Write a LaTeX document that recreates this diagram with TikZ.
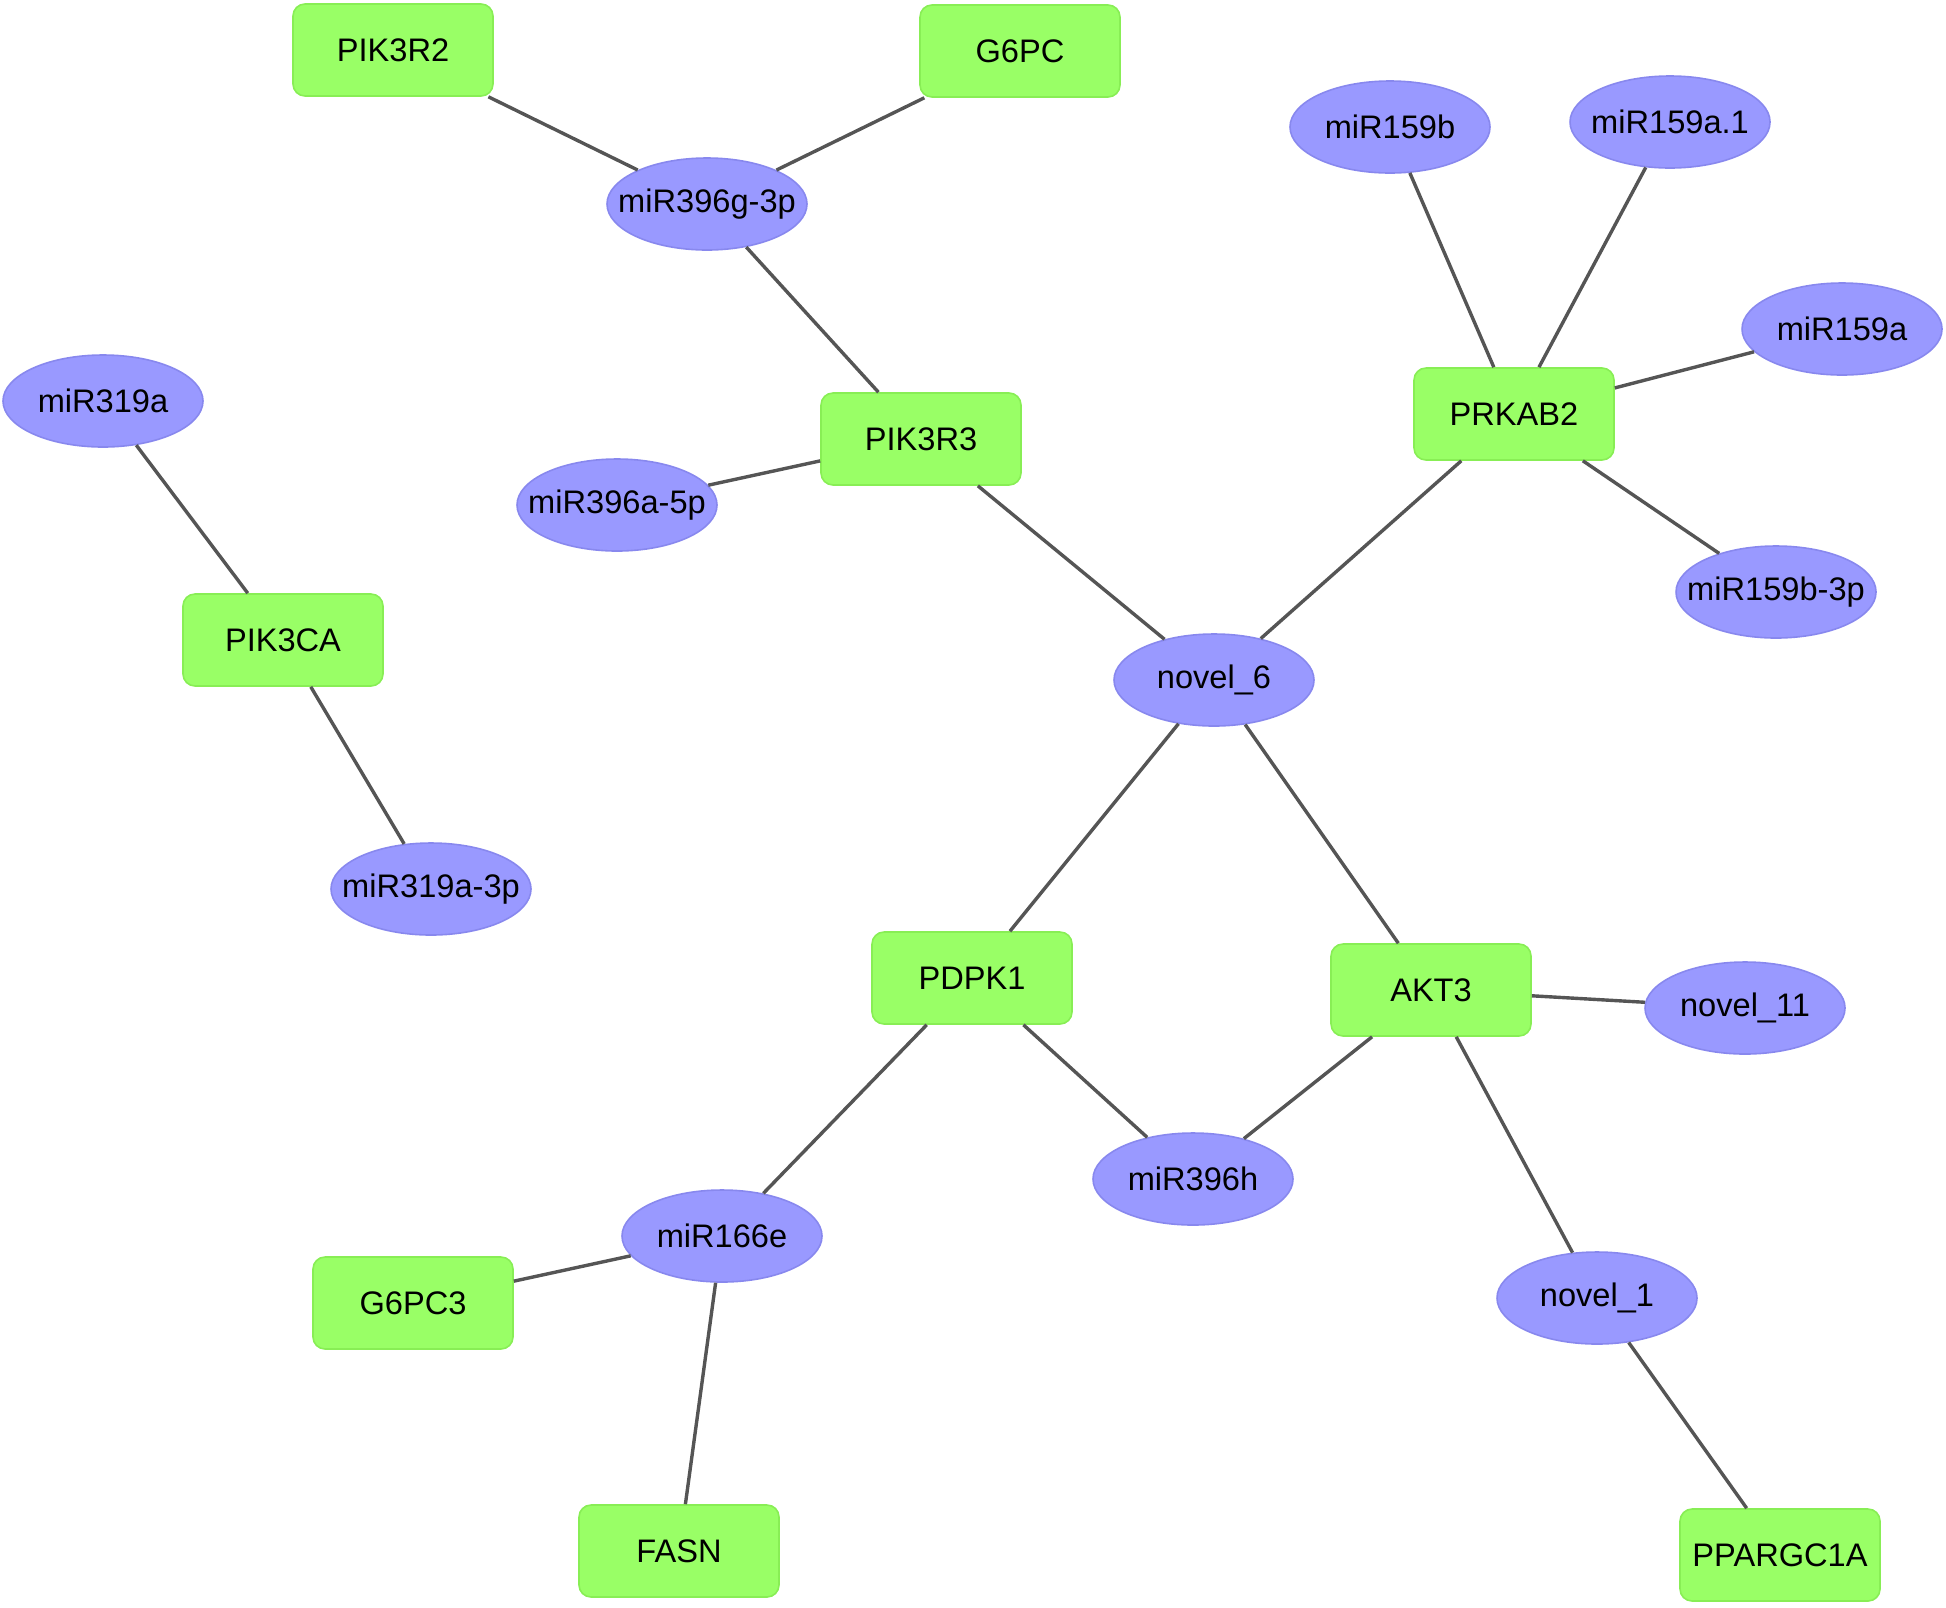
\documentclass[tikz,border=0pt]{standalone}
\usepackage{fontspec}
\setmainfont{Liberation Sans}
\usetikzlibrary{shapes.geometric}
\definecolor{genefill}{HTML}{99FF66}
\definecolor{genedraw}{HTML}{88EE55}
\definecolor{mirfill}{HTML}{9999FF}
\definecolor{mirdraw}{HTML}{8888EE}
\definecolor{edgegray}{HTML}{555555}
\begin{document}
\begin{tikzpicture}[x=0.5pt, y=-0.5pt,
  gene/.style={rectangle, rounded corners=6pt, fill=genefill, draw=genedraw, line width=0.8pt,
    minimum width=100pt, minimum height=46pt, font=\fontsize{16.3}{19}\selectfont},
  mir/.style={ellipse, fill=mirfill, draw=mirdraw, line width=0.8pt,
    minimum width=100pt, minimum height=46pt, inner xsep=-12pt, inner ysep=0pt,
    font=\fontsize{16.3}{19}\selectfont},
  link/.style={draw=edgegray, line width=1.7pt}]
  \useasboundingbox (0,0) rectangle (1946,1607);
  % genes
  \node[gene] (pik3r2) at (393,50) {PIK3R2};
  \node[gene] (g6pc) at (1020,51) {G6PC};
  \node[gene] (prkab2) at (1514,414) {PRKAB2};
  \node[gene] (pik3r3) at (921,439) {PIK3R3};
  \node[gene] (pik3ca) at (283,640) {PIK3CA};
  \node[gene] (pdpk1) at (972,978) {PDPK1};
  \node[gene] (akt3) at (1431,990) {AKT3};
  \node[gene] (g6pc3) at (413,1303) {G6PC3};
  \node[gene] (fasn) at (679,1551) {FASN};
  \node[gene] (ppargc1a) at (1780,1555) {PPARGC1A};
  % miRNAs
  \node[mir] (mir396g) at (707,204) {miR396g-3p};
  \node[mir] (mir159b) at (1390,127) {miR159b};
  \node[mir] (mir159aone) at (1670,122) {miR159a.1};
  \node[mir] (mir159a) at (1842,329) {miR159a};
  \node[mir] (mir159b3p) at (1776,592) {miR159b-3p};
  \node[mir] (mir319a) at (103,401) {miR319a};
  \node[mir] (mir396a) at (617,505) {miR396a-5p};
  \node[mir] (novelsix) at (1214,680) {novel\_6};
  \node[mir] (mir319a3p) at (431,889) {miR319a-3p};
  \node[mir] (novelelev) at (1745,1008) {novel\_11};
  \node[mir] (mir396h) at (1193,1179) {miR396h};
  \node[mir] (mir166e) at (722,1236) {miR166e};
  \node[mir] (novelone) at (1597,1298) {novel\_1};
  % interactions
  \draw[link] (pik3r2) -- (mir396g);
  \draw[link] (g6pc) -- (mir396g);
  \draw[link] (mir396g) -- (pik3r3);
  \draw[link] (mir396a) -- (pik3r3);
  \draw[link] (pik3r3) -- (novelsix);
  \draw[link] (mir159b) -- (prkab2);
  \draw[link] (mir159aone) -- (prkab2);
  \draw[link] (mir159a) -- (prkab2);
  \draw[link] (mir159b3p) -- (prkab2);
  \draw[link] (prkab2) -- (novelsix);
  \draw[link] (mir319a) -- (pik3ca);
  \draw[link] (pik3ca) -- (mir319a3p);
  \draw[link] (novelsix) -- (pdpk1);
  \draw[link] (novelsix) -- (akt3);
  \draw[link] (akt3) -- (novelelev);
  \draw[link] (pdpk1) -- (mir396h);
  \draw[link] (akt3) -- (mir396h);
  \draw[link] (pdpk1) -- (mir166e);
  \draw[link] (mir166e) -- (g6pc3);
  \draw[link] (mir166e) -- (fasn);
  \draw[link] (akt3) -- (novelone);
  \draw[link] (novelone) -- (ppargc1a);
\end{tikzpicture}
\end{document}
